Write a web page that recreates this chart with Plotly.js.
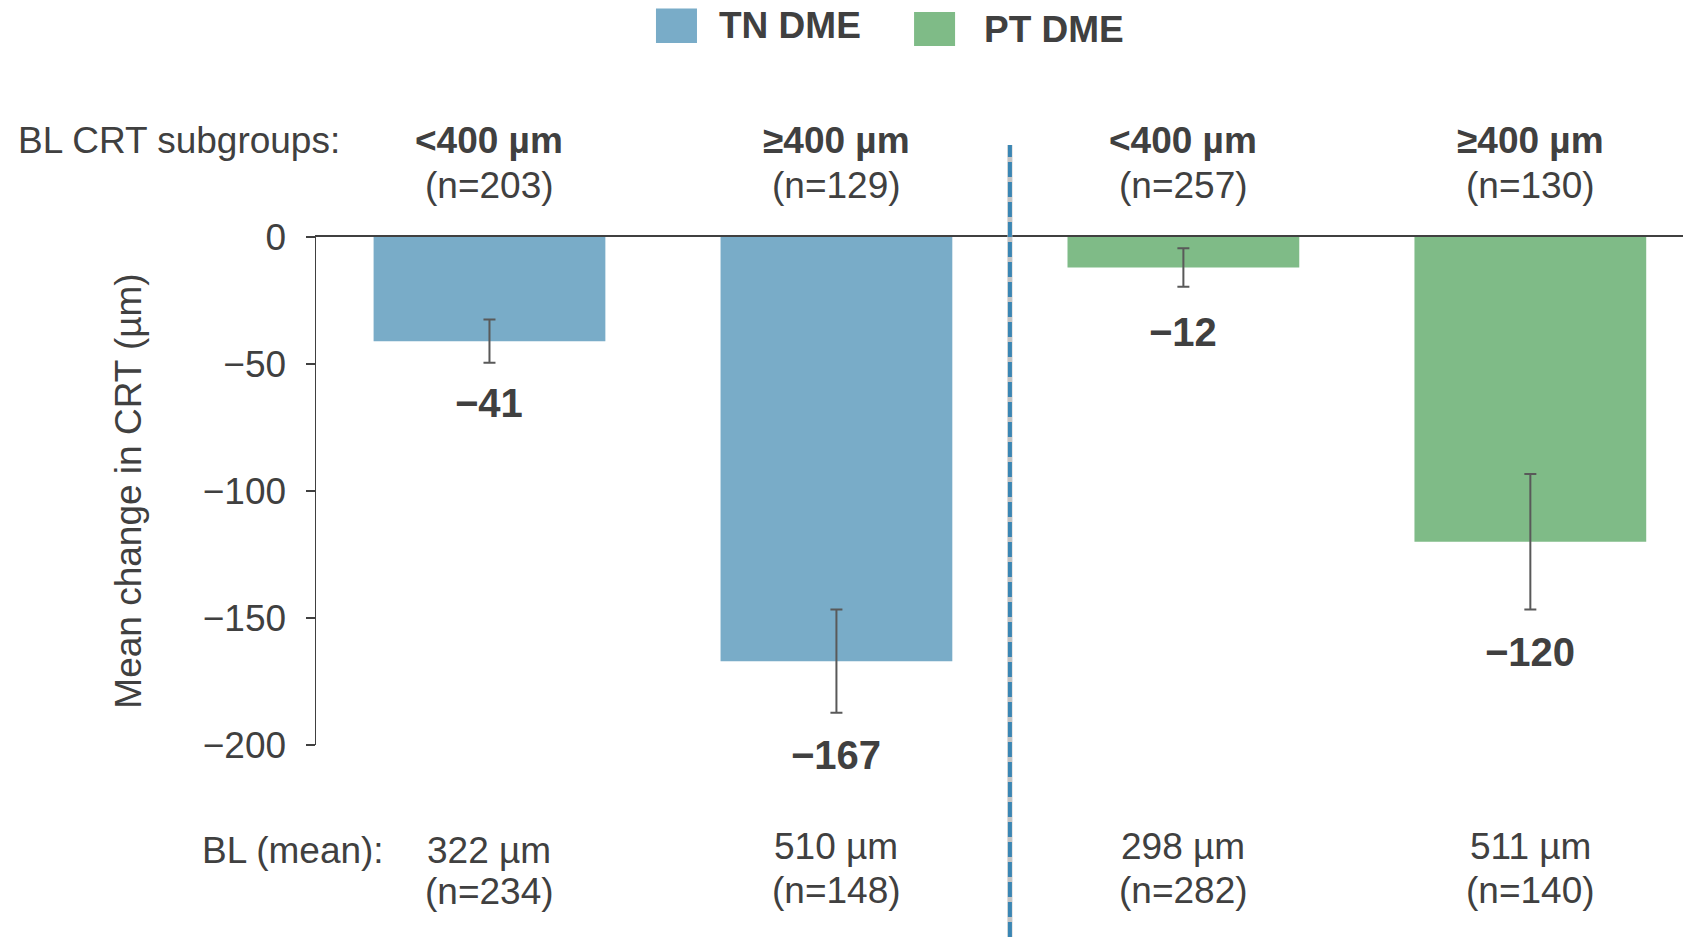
<!DOCTYPE html>
<html>
<head>
<meta charset="utf-8">
<script src="https://cdn.plot.ly/plotly-3.0.1.min.js"></script>
<style>
  html, body { margin: 0; padding: 0; background: #ffffff; }
  #chart { width: 1683px; height: 937px; }
</style>
</head>
<body>
<div id="chart"></div>
<script>
// ---- data ----
const groups = ["TN DME", "PT DME"];
const categories = ["TN <400", "TN >=400", "PT <400", "PT >=400"];
const tnCategories = ["TN <400", "TN >=400"];
const ptCategories = ["PT <400", "PT >=400"];
const tnMeanChange = [-41, -167];
const ptMeanChange = [-12, -120];
const tnError = [8.5, 20.3];
const ptError = [7.6, 26.7];
const subgroupLabels = ["&lt;400 µm", "≥400 µm", "&lt;400 µm", "≥400 µm"];
const subgroupN = ["(n=203)", "(n=129)", "(n=257)", "(n=130)"];
const blMean = ["322 µm", "510 µm", "298 µm", "511 µm"];
const blN = ["(n=234)", "(n=148)", "(n=282)", "(n=140)"];
const valueLabels = ["−41", "−167", "−12", "−120"];
const yTickVals = [0, -50, -100, -150, -200];
const yTickText = ["0", "−50", "−100", "−150", "−200"];

// ---- style ----
const FONT = "Liberation Sans, Arial, sans-serif";
const TXT = "#404040";
const BLUE = "#79ACC8";
const GREEN = "#7FBB87";
const FS = 37;

const traces = [
  {
    type: "bar", name: groups[0], x: tnCategories, y: tnMeanChange,
    width: 0.668, marker: { color: BLUE, line: { width: 0 } },
    error_y: { type: "data", array: tnError, visible: true, color: "#595959", thickness: 2, width: 6 },
    hoverinfo: "skip", showlegend: false
  },
  {
    type: "bar", name: groups[1], x: ptCategories, y: ptMeanChange,
    width: 0.668, marker: { color: GREEN, line: { width: 0 } },
    error_y: { type: "data", array: ptError, visible: true, color: "#595959", thickness: 2, width: 6 },
    hoverinfo: "skip", showlegend: false
  }
];

const allValues = tnMeanChange.concat(ptMeanChange);
const allErrors = tnError.concat(ptError);

const annotations = [];
// header
annotations.push({ xref: "paper", yref: "paper", x: -0.2195, y: 1.19, xanchor: "left", yanchor: "middle",
  text: "BL CRT subgroups:", showarrow: false, font: { family: FONT, size: FS, color: TXT } });
annotations.push({ xref: "paper", yref: "paper", x: -0.0849, y: -0.2067, xanchor: "left", yanchor: "middle",
  text: "BL (mean):", showarrow: false, font: { family: FONT, size: FS, color: TXT } });
const blY = [-0.2067, -0.199, -0.199, -0.199];
const blNY = [-0.289, -0.287, -0.287, -0.287];
const valueShift = [-40, -42, -45, -42];
categories.forEach((c, i) => {
  annotations.push({ xref: "x", yref: "paper", x: c, y: 1.19, xanchor: "center", yanchor: "middle",
    text: "<b>" + subgroupLabels[i] + "</b>", showarrow: false, font: { family: FONT, size: FS, color: TXT } });
  annotations.push({ xref: "x", yref: "paper", x: c, y: 1.101, xanchor: "center", yanchor: "middle",
    text: subgroupN[i], showarrow: false, font: { family: FONT, size: FS, color: TXT } });
  annotations.push({ xref: "x", yref: "paper", x: c, y: blY[i], xanchor: "center", yanchor: "middle",
    text: blMean[i], showarrow: false, font: { family: FONT, size: FS, color: TXT } });
  annotations.push({ xref: "x", yref: "paper", x: c, y: blNY[i], xanchor: "center", yanchor: "middle",
    text: blN[i], showarrow: false, font: { family: FONT, size: FS, color: TXT } });
  annotations.push({ xref: "x", yref: "y", x: c, y: allValues[i] - allErrors[i], xanchor: "center", yanchor: "middle",
    yshift: valueShift[i], text: "<b>" + valueLabels[i] + "</b>", showarrow: false, font: { family: FONT, size: 40, color: TXT } });
});
// legend text
annotations.push({ xref: "paper", yref: "paper", x: 0.2933, y: 1.4157, xanchor: "left", yanchor: "middle",
  text: "<b>" + groups[0] + "</b>", showarrow: false, font: { family: FONT, size: FS, color: TXT } });
annotations.push({ xref: "paper", yref: "paper", x: 0.4872, y: 1.4094, xanchor: "left", yanchor: "middle",
  text: "<b>" + groups[1] + "</b>", showarrow: false, font: { family: FONT, size: FS, color: TXT } });

const shapes = [
  // separator shadow + dashed line
  { type: "line", xref: "x", yref: "paper", x0: 1.5, x1: 1.5, y0: -0.378, y1: 1.181,
    line: { color: "#c4c4c4", width: 5 }, layer: "above" },
  { type: "line", xref: "x", yref: "paper", x0: 1.5, x1: 1.5, y0: -0.378, y1: 1.181,
    line: { color: "#3A86B4", width: 4, dash: "15px,5px" }, layer: "above" },
  // legend swatches
  { type: "rect", xref: "paper", yref: "paper", x0: 0.2487, x1: 0.2787, y0: 1.3819, y1: 1.4496,
    fillcolor: BLUE, line: { width: 0 } },
  { type: "rect", xref: "paper", yref: "paper", x0: 0.4375, x1: 0.4675, y0: 1.376, y1: 1.4429,
    fillcolor: GREEN, line: { width: 0 } }
];

const layout = {
  width: 1683, height: 937,
  margin: { l: 316, r: 0, t: 237, b: 192, pad: 0 },
  paper_bgcolor: "#ffffff", plot_bgcolor: "#ffffff",
  barmode: "overlay",
  showlegend: false,
  font: { family: FONT, size: FS, color: TXT },
  xaxis: {
    type: "category", categoryorder: "array", categoryarray: categories,
    range: [-0.5, 3.44], side: "top",
    showline: true, linecolor: "#404040", linewidth: 2,
    showticklabels: false, ticks: "", showgrid: false, zeroline: false, fixedrange: true
  },
  yaxis: {
    range: [-200, 0], tickvals: yTickVals, ticktext: yTickText,
    showline: true, linecolor: "#404040", linewidth: 1.5,
    ticks: "outside", ticklen: 9, tickwidth: 1.5, tickcolor: "#404040",
    ticklabelstandoff: 12,
    tickfont: { family: FONT, size: FS, color: TXT },
    showgrid: false, zeroline: false, fixedrange: true,
    automargin: true,
    title: { text: "Mean change in CRT (µm)", standoff: 50, font: { family: FONT, size: FS, color: TXT } }
  },
  annotations: annotations,
  shapes: shapes
};

Plotly.newPlot("chart", traces, layout, { displayModeBar: false, staticPlot: true });
</script>
</body>
</html>
